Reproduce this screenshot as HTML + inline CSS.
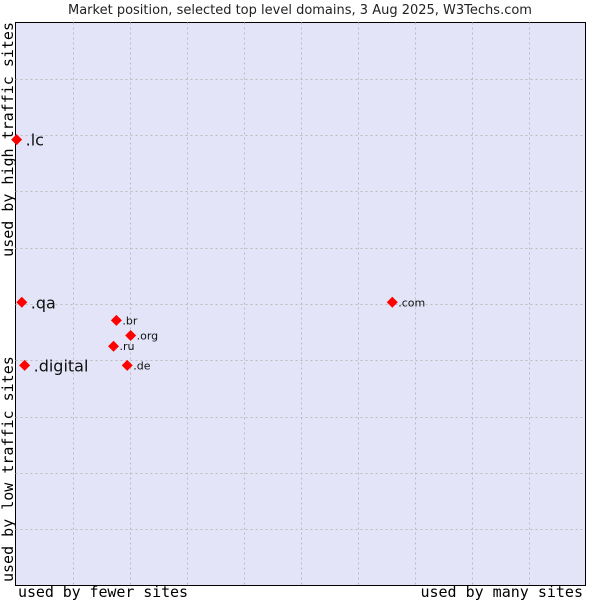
<!DOCTYPE html>
<html><head><meta charset="utf-8"><style>
body{margin:0;background:#fff;}
svg{display:block;}
</style></head><body>
<svg id="chart" width="600" height="600" xmlns="http://www.w3.org/2000/svg">
<text x="300" y="14" text-anchor="middle" font-family="DejaVu Sans, sans-serif" font-size="13" fill="#222">Market position, selected top level domains, 3 Aug 2025, W3Techs.com</text>
<rect x="15.5" y="22.5" width="570" height="563" fill="#e4e4f8" stroke="#000" stroke-width="1"/>
<g id="grid"></g>
<g id="points"></g>
<text x="18" y="597" font-family="DejaVu Sans Mono, monospace" font-size="15" textLength="170" fill="#000">used by fewer sites</text>
<text x="583" y="597" text-anchor="end" font-family="DejaVu Sans Mono, monospace" font-size="15" fill="#000">used by many sites</text>
<text transform="translate(13,22) rotate(-90)" text-anchor="end" font-family="DejaVu Sans Mono, monospace" font-size="15" fill="#000">used by high traffic sites</text>
<text transform="translate(13,582) rotate(-90)" font-family="DejaVu Sans Mono, monospace" font-size="15" fill="#000">used by low traffic sites</text>
</svg>
<script>
const labels = [".lc", ".qa", ".digital", ".br", ".org", ".ru", ".de", ".com"];
const xValues = [0.2, 1.1, 1.6, 17.7, 20.2, 17.2, 19.6, 66.1];
const yValues = [79.2, 50.3, 39.1, 47.1, 44.4, 42.5, 39.1, 50.3];
const bigLabel = [true, true, true, false, false, false, false, false];
const NS = "http://www.w3.org/2000/svg";
const X0 = 15.5, W = 570, Y0 = 22.5, H = 563;
function sx(v){ return X0 + v / 100 * W; }
function sy(v){ return Y0 + H - v / 100 * H; }
const grid = document.getElementById('grid');
for (let i = 1; i < 10; i++) {
  const v = document.createElementNS(NS, 'line');
  
  
  const x = Math.round(sx(i * 10)) + 0.5;
  v.setAttribute('x1', x); v.setAttribute('x2', x);
  v.setAttribute('y1', Y0); v.setAttribute('y2', Y0 + H);
  v.setAttribute('stroke', '#bbb'); v.setAttribute('stroke-dasharray', '2,3');
  grid.appendChild(v);
  const h = document.createElementNS(NS, 'line');
  
  
  const y = Math.round(sy(i * 10)) + 0.5;
  h.setAttribute('y1', y); h.setAttribute('y2', y);
  h.setAttribute('x1', X0); h.setAttribute('x2', X0 + W);
  h.setAttribute('stroke', '#bbb'); h.setAttribute('stroke-dasharray', '2,3');
  grid.appendChild(h);
}
const pts = document.getElementById('points');
labels.forEach((lab, i) => {
  const x = sx(xValues[i]), y = sy(yValues[i]);
  const m = document.createElementNS(NS, 'path');
  
  
  m.setAttribute('d', `M${x},${y-5.5}L${x+5.5},${y}L${x},${y+5.5}L${x-5.5},${y}Z`);
  m.setAttribute('fill', '#f00');
  pts.appendChild(m);
  const t = document.createElementNS(NS, 'text');
  
  
  t.setAttribute('x', x + (bigLabel[i] ? 9 : 6));
  t.setAttribute('y', y + (bigLabel[i] ? 6 : 4));
  t.setAttribute('font-family', 'DejaVu Sans, sans-serif');
  t.setAttribute('font-size', bigLabel[i] ? '16' : '11');
  t.setAttribute('fill', '#111');
  t.textContent = lab;
  pts.appendChild(t);
});
</script>
</body></html>
